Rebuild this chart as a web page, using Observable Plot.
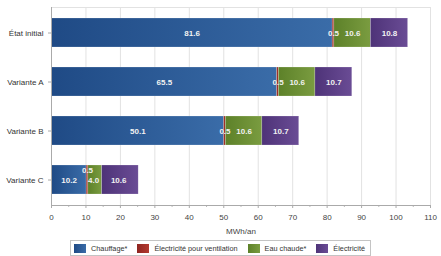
<!DOCTYPE html>
<html><head><meta charset="utf-8">
<script src="https://cdn.jsdelivr.net/npm/d3@7"></script>
<script src="https://cdn.jsdelivr.net/npm/@observablehq/plot@0.6"></script>
<style>
body{margin:0;background:#fff;font-family:"Liberation Sans",Arial,sans-serif;}
#legend{display:flex;justify-content:center;margin-top:2px;}
#legend .box{display:flex;align-items:center;border:1px solid #c4c4c4;height:14px;padding:0 5px 0 3px;gap:10px;font-size:7.3px;color:#333;}
#legend .item{display:flex;align-items:center;gap:5px;}
#legend .sw{width:12px;height:9px;display:inline-block;}
</style></head>
<body>
<div id="chart"></div>
<div id="legend"></div>
<script>
const categories = ["État initial", "Variante A", "Variante B", "Variante C"];
const series = ["Chauffage*", "Électricité pour ventilation", "Eau chaude*", "Électricité"];
const chauffage = [81.6, 65.5, 50.1, 10.2];
const ventilation = [0.5, 0.5, 0.5, 0.5];
const eauChaude = [10.6, 10.6, 10.6, 4.0];
const electricite = [10.8, 10.7, 10.7, 10.6];
const xTicks = [0, 10, 20, 30, 40, 50, 60, 70, 80, 90, 100, 110];
const xMinorTicks = [5, 15, 25, 35, 45, 55, 65, 75, 85, 95, 105];
const gradIds = ["g0", "g1", "g2", "g3"];
const gradStops = [["#1f4a85", "#3a6ca8"], ["#8e2520", "#b33a30"], ["#5d8129", "#7a9c40"], ["#4e3378", "#6a4c95"]];

const valueSets = [chauffage, ventilation, eauChaude, electricite];
const data = [];
categories.forEach((c, i) => {
  series.forEach((s, j) => {
    data.push({cat: c, series: s, value: valueSets[j][i], si: j, small: valueSets[0][i] < 20});
  });
});

const font = "'Liberation Sans', Arial, sans-serif";
const plot = Plot.plot({
  width: 441,
  height: 238,
  marginLeft: 51,
  marginRight: 11,
  marginTop: 7,
  marginBottom: 33,
  style: {fontFamily: font, fontSize: "8px", color: "#444", background: "#fff"},
  x: {domain: [0, 110], label: "MWh/an", labelAnchor: "center", labelArrow: "none"},
  y: {domain: categories, paddingInner: 0.4, paddingOuter: 0.2, label: null},
  color: {domain: series, range: gradIds.map(id => `url(#${id})`)},
  marks: [
    Plot.gridX(xTicks, {stroke: "#e2e2e2", strokeOpacity: 1}),
    Plot.frame({anchor: "top", stroke: "#e2e2e2"}),
    Plot.barX(data, {x: "value", y: "cat", fill: "series", order: series, stroke: "#fff", strokeOpacity: 0.4, strokeWidth: 0.5}),
    Plot.text(data.filter(d => !(d.si === 1 && d.small)), Plot.stackX({
      x: "value", y: "cat", z: "series", order: series,
      text: d => d.value.toFixed(1),
      fill: "#f2f2f2", fontWeight: "bold", fontSize: 8
    })),
    Plot.text(data.filter(d => d.si === 1 && d.small), {
      x: d => chauffage[categories.indexOf(d.cat)] + d.value / 2, y: "cat",
      text: d => d.value.toFixed(1), dy: -10,
      fill: "#f2f2f2", fontWeight: "bold", fontSize: 8
    }),
    Plot.axisX(xTicks, {tickSize: 3, tickPadding: 6, stroke: "#aaa", label: "MWh/an", labelAnchor: "center", labelArrow: "none", labelOffset: 28, fill: "#444"}),
    Plot.axisX(xMinorTicks, {tickSize: 2, text: null, stroke: "#bbb", label: null}),
    Plot.axisY({tickSize: 3, tickPadding: 5, stroke: "#aaa", label: null, fill: "#333"}),
    Plot.frame({anchor: "left", stroke: "#aaa"}),
    Plot.frame({anchor: "bottom", stroke: "#aaa"})
  ]
});

const svg = d3.select(plot);
const defs = svg.insert("defs", ":first-child");
gradIds.forEach((id, k) => {
  const g = defs.append("linearGradient").attr("id", id).attr("x1", 0).attr("x2", 1).attr("y1", 0).attr("y2", 0);
  g.append("stop").attr("offset", "0%").attr("stop-color", gradStops[k][0]);
  g.append("stop").attr("offset", "100%").attr("stop-color", gradStops[k][1]);
});
document.getElementById("chart").appendChild(plot);

const box = document.createElement("div");
box.className = "box";
series.forEach((s, j) => {
  const it = document.createElement("span");
  it.className = "item";
  it.innerHTML = `<span class="sw" style="background:linear-gradient(to right, ${gradStops[j][0]}, ${gradStops[j][1]})"></span>${s}`;
  box.appendChild(it);
});
document.getElementById("legend").appendChild(box);
</script>
</body></html>
